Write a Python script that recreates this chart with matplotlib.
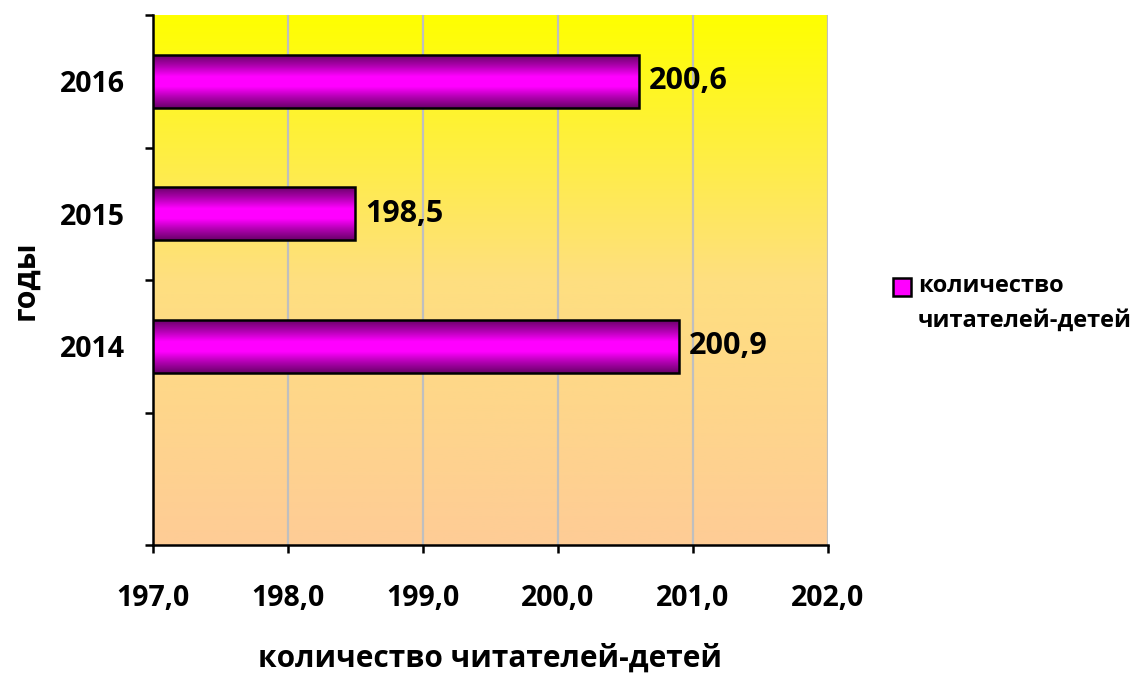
import numpy as np
import matplotlib
matplotlib.use("Agg")
import matplotlib.pyplot as plt
from matplotlib.colors import LinearSegmentedColormap
from matplotlib.patches import Rectangle
from matplotlib.ticker import FixedLocator, NullFormatter

plt.rcParams['font.family'] = ['Open Sans', 'DejaVu Sans']
plt.rcParams['font.weight'] = 'bold'

categories = ["", "2014", "2015", "2016"]
values = [np.nan, 200.9, 198.5, 200.6]
x_ticks = [197.0, 198.0, 199.0, 200.0, 201.0, 202.0]
x_min, x_max = 197.0, 202.0
series_lines = ["количество", "читателей-детей"]
x_title = "количество читателей-детей"
y_title = "годы"

W = "bold"

def fmt(v):
    return f"{v:.1f}".replace(".", ",")

fig = plt.figure(figsize=(11.39, 6.81), dpi=100)
ax = fig.add_axes([153/1139, 1-545/681, (828-153)/1139, (545-15)/681])

ax.set_xlim(x_min, x_max)
ax.set_ylim(-0.5, len(categories) - 0.5)

bg = LinearSegmentedColormap.from_list("bg", ["#FECC96", "#FEDF80", "#FFFF00"])
grad = np.linspace(0, 1, 256).reshape(-1, 1)
ax.imshow(grad, cmap=bg, aspect="auto", origin="lower",
          extent=[x_min, x_max, -0.5, len(categories) - 0.5], zorder=0)

for xv in x_ticks[1:]:
    ax.axvline(xv, color="#BFBFBF", lw=1.6, zorder=1)

bar_cmap = LinearSegmentedColormap.from_list(
    "bar", ["#6A006A", "#B000B0", "#FF00FF", "#FF00FF", "#B000B0", "#6A006A"])
prof = np.linspace(0, 1, 128).reshape(-1, 1)
h = 0.4
for i, (cat, v) in enumerate(zip(categories, values)):
    if np.isnan(v):
        continue
    y0 = i - h / 2
    rect = Rectangle((x_min, y0), v - x_min, h, facecolor="none",
                     edgecolor="black", lw=1.8, zorder=4)
    ax.add_patch(rect)
    im = ax.imshow(prof, cmap=bar_cmap, aspect="auto", origin="lower",
                   extent=[x_min, v, y0, y0 + h], zorder=3)
    im.set_clip_path(rect)
    ax.text(v + 0.07, i, fmt(v), va="center", ha="left",
            fontsize=22, fontweight=W, zorder=5)

ax.set_xlim(x_min, x_max)
ax.set_ylim(-0.5, len(categories) - 0.5)

for s in ["top", "right"]:
    ax.spines[s].set_visible(False)
ax.spines["left"].set_linewidth(1.8)
ax.spines["bottom"].set_linewidth(1.8)

ax.set_xticks(x_ticks)
ax.set_xticklabels([fmt(t) for t in x_ticks], fontsize=20.5, fontweight=W)
ax.tick_params(axis="x", direction="out", length=6, width=1.8, pad=22)

ax.set_yticks(range(len(categories)))
ax.set_yticklabels(categories, fontsize=20.5, fontweight=W)
ax.tick_params(axis="y", which="major", length=0, pad=20)
ax.yaxis.set_minor_locator(FixedLocator(np.arange(-0.5, len(categories), 1.0)))
ax.yaxis.set_minor_formatter(NullFormatter())
ax.tick_params(axis="y", which="minor", direction="out", length=6, width=1.8)

ax.set_xlabel(x_title, fontsize=21.5, fontweight=W, labelpad=22)
ax.set_ylabel(y_title, fontsize=22, fontweight=W, labelpad=14)

# legend (drawn manually)
sq = Rectangle((893/1139, 1-296/681), 18/1139, 18/681, transform=fig.transFigure,
               facecolor="#FF00FF", edgecolor="black", lw=1.8)
fig.patches.append(sq)
fig.text(918/1139, 1-286/681, series_lines[0], fontsize=17, fontweight=W,
         va="center", ha="left")
fig.text(918/1139, 1-321/681, series_lines[1], fontsize=17, fontweight=W,
         va="center", ha="left")

fig.savefig("out.png", dpi=100)
